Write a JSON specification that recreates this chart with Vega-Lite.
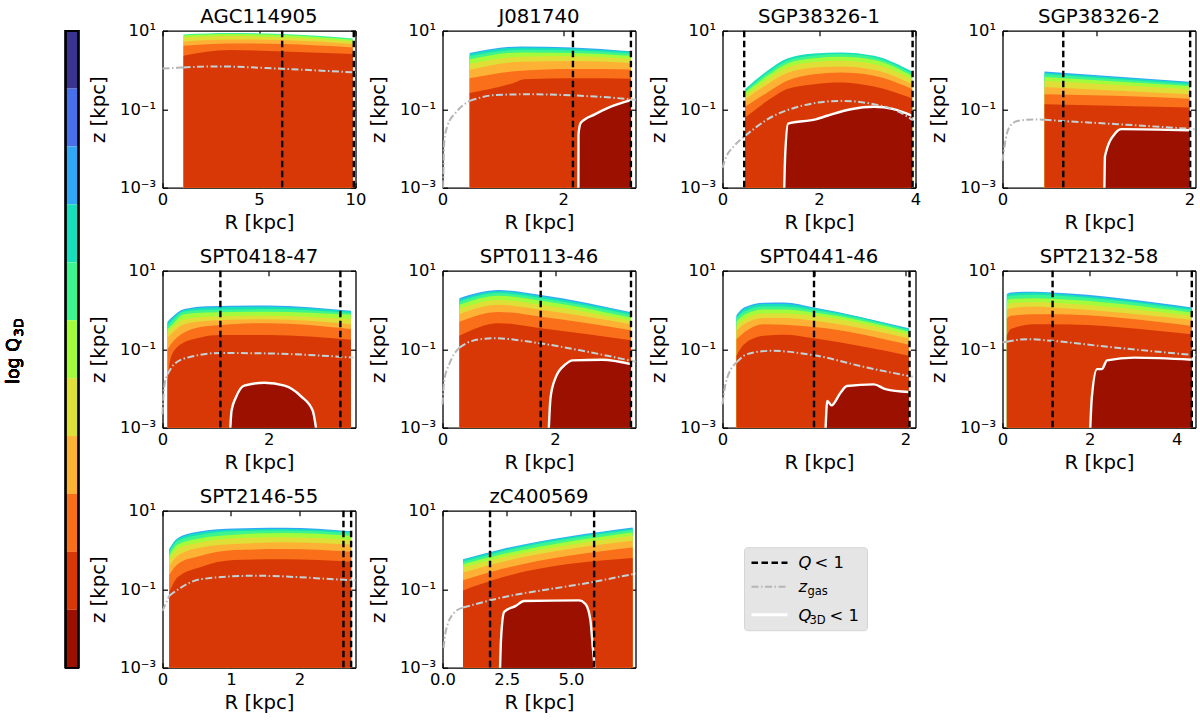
{"$schema":"https://vega.github.io/schema/vega-lite/v6.json","background":"white","padding":{"left":4.5,"top":6.7,"right":4,"bottom":4},
"config":{"view":{"stroke":null},"font":"DejaVu Sans","title":{"font":"DejaVu Sans","fontSize":19.7,"fontWeight":"normal","offset":-3.7},"axis":{"grid":false,"domainColor":"#000","domainWidth":1.3,"tickColor":"#000","tickWidth":1.2,"tickSize":-5,"labelColor":"#000","titleColor":"#000","labelFont":"DejaVu Sans","labelFontSize":16.4,"labelPadding":9,"titleFont":"DejaVu Sans","titleFontSize":19.7,"titleFontWeight":"normal","titlePadding":4,"zindex":1,"labelFlush":false,"labelOverlap":false},"axisY":{"titlePadding":11,"labelPadding":12}},
"datasets":{
"d1":[{"s":"b6","R":1.09,"z":8.06},{"s":"b6","R":3.5,"z":8.7},{"s":"b6","R":6.2,"z":8.2},{"s":"b6","R":9.86,"z":6.37},{"s":"b5","R":1.09,"z":7.6},{"s":"b5","R":3.5,"z":8.2},{"s":"b5","R":6.2,"z":7.74},{"s":"b5","R":9.86,"z":5.89},{"s":"b4","R":1.09,"z":6.76},{"s":"b4","R":3.5,"z":7.3},{"s":"b4","R":6.2,"z":6.76},{"s":"b4","R":9.86,"z":5.34},{"s":"b3","R":1.09,"z":5.34},{"s":"b3","R":3.5,"z":6},{"s":"b3","R":6.2,"z":5.78},{"s":"b3","R":9.86,"z":4.57},{"s":"b2","R":1.09,"z":4.14},{"s":"b2","R":3.5,"z":4.75},{"s":"b2","R":6.2,"z":4.57},{"s":"b2","R":9.86,"z":3.75},{"s":"b1","R":1.09,"z":2.3},{"s":"b1","R":3.5,"z":3.2},{"s":"b1","R":6.2,"z":2.96},{"s":"b1","R":9.86,"z":2.54},{"s":"g","R":0,"z":1.09},{"s":"g","R":1.09,"z":1.16},{"s":"h","R":1.09,"z":1.16},{"s":"h","R":2.85,"z":1.23},{"s":"h","R":6.2,"z":1.07},{"s":"h","R":10,"z":0.86},{"s":"Q","R":6.2},{"s":"Q","R":9.91}],
"d2":[{"s":"b8","R":0.45,"z":2.7},{"s":"b8","R":1.3,"z":3.98},{"s":"b8","R":2.15,"z":3.75},{"s":"b8","R":3.12,"z":3.0},{"s":"b7","R":0.45,"z":2.54},{"s":"b7","R":1.3,"z":3.75},{"s":"b7","R":2.15,"z":3.53},{"s":"b7","R":3.12,"z":2.92},{"s":"b6","R":0.45,"z":2.26},{"s":"b6","R":1.3,"z":3.27},{"s":"b6","R":2.15,"z":3.14},{"s":"b6","R":3.12,"z":2.64},{"s":"b5","R":0.45,"z":1.86},{"s":"b5","R":1.3,"z":2.8},{"s":"b5","R":2.15,"z":2.7},{"s":"b5","R":3.12,"z":2.3},{"s":"b4","R":0.45,"z":1.41},{"s":"b4","R":1.3,"z":2.18},{"s":"b4","R":2.15,"z":2.22},{"s":"b4","R":3.12,"z":1.9},{"s":"b3","R":0.45,"z":1.01},{"s":"b3","R":1.3,"z":1.62},{"s":"b3","R":2.15,"z":1.68},{"s":"b3","R":3.12,"z":1.5},{"s":"b2","R":0.45,"z":0.61},{"s":"b2","R":1.3,"z":0.95},{"s":"b2","R":2.15,"z":1.05},{"s":"b2","R":3.12,"z":1.03},{"s":"b1","R":0.45,"z":0.26},{"s":"b1","R":1.2,"z":0.48},{"s":"b1","R":1.35,"z":0.58},{"s":"b1","R":2.15,"z":0.61},{"s":"b1","R":3.12,"z":0.6},{"s":"b0","R":2.25,"z":0.001},{"s":"b0","R":2.252,"z":0.023},{"s":"b0","R":2.29,"z":0.045},{"s":"b0","R":2.53,"z":0.075},{"s":"b0","R":2.75,"z":0.11},{"s":"b0","R":3.12,"z":0.17},{"s":"g","R":0.01,"z":0.001},{"s":"g","R":0.03,"z":0.0155},{"s":"g","R":0.08,"z":0.037},{"s":"g","R":0.22,"z":0.082},{"s":"g","R":0.45,"z":0.163},{"s":"h","R":0.45,"z":0.163},{"s":"h","R":0.88,"z":0.23},{"s":"h","R":1.43,"z":0.24},{"s":"h","R":2.15,"z":0.225},{"s":"h","R":2.53,"z":0.21},{"s":"h","R":3.2,"z":0.175},{"s":"Q","R":2.16},{"s":"Q","R":3.12}],
"d3":[{"s":"b7","R":0.47,"z":0.325},{"s":"b7","R":0.93,"z":0.95},{"s":"b7","R":1.34,"z":1.95},{"s":"b7","R":1.9,"z":2.64},{"s":"b7","R":2.45,"z":2.8},{"s":"b7","R":3.14,"z":2.3},{"s":"b7","R":3.93,"z":0.91},{"s":"b6","R":0.47,"z":0.294},{"s":"b6","R":0.93,"z":0.83},{"s":"b6","R":1.34,"z":1.72},{"s":"b6","R":1.9,"z":2.35},{"s":"b6","R":2.45,"z":2.54},{"s":"b6","R":3.14,"z":2.09},{"s":"b6","R":3.93,"z":0.81},{"s":"b5","R":0.47,"z":0.267},{"s":"b5","R":0.93,"z":0.71},{"s":"b5","R":1.34,"z":1.47},{"s":"b5","R":1.9,"z":2.0},{"s":"b5","R":2.45,"z":2.18},{"s":"b5","R":3.14,"z":1.8},{"s":"b5","R":3.93,"z":0.71},{"s":"b4","R":0.47,"z":0.22},{"s":"b4","R":0.93,"z":0.58},{"s":"b4","R":1.34,"z":1.16},{"s":"b4","R":1.9,"z":1.6},{"s":"b4","R":2.45,"z":1.72},{"s":"b4","R":3.14,"z":1.41},{"s":"b4","R":3.93,"z":0.58},{"s":"b3","R":0.47,"z":0.18},{"s":"b3","R":0.93,"z":0.435},{"s":"b3","R":1.34,"z":0.83},{"s":"b3","R":1.9,"z":1.16},{"s":"b3","R":2.45,"z":1.23},{"s":"b3","R":3.14,"z":1.01},{"s":"b3","R":3.93,"z":0.435},{"s":"b2","R":0.47,"z":0.115},{"s":"b2","R":0.93,"z":0.267},{"s":"b2","R":1.34,"z":0.53},{"s":"b2","R":1.9,"z":0.78},{"s":"b2","R":2.45,"z":0.86},{"s":"b2","R":3.14,"z":0.71},{"s":"b2","R":3.93,"z":0.325},{"s":"b1","R":0.47,"z":0.061},{"s":"b1","R":0.93,"z":0.163},{"s":"b1","R":1.34,"z":0.325},{"s":"b1","R":1.9,"z":0.435},{"s":"b1","R":2.45,"z":0.48},{"s":"b1","R":3.14,"z":0.38},{"s":"b1","R":3.93,"z":0.19},{"s":"b0","R":1.28,"z":0.001},{"s":"b0","R":1.3,"z":0.0071},{"s":"b0","R":1.36,"z":0.043},{"s":"b0","R":1.93,"z":0.055},{"s":"b0","R":2.17,"z":0.068},{"s":"b0","R":2.66,"z":0.1},{"s":"b0","R":3.14,"z":0.115},{"s":"b0","R":3.55,"z":0.1},{"s":"b0","R":3.93,"z":0.068},{"s":"g","R":0,"z":0.0032},{"s":"g","R":0.07,"z":0.0058},{"s":"g","R":0.24,"z":0.0115},{"s":"g","R":0.47,"z":0.021},{"s":"h","R":0.47,"z":0.021},{"s":"h","R":0.93,"z":0.055},{"s":"h","R":1.62,"z":0.12},{"s":"h","R":2.45,"z":0.163},{"s":"h","R":3.14,"z":0.134},{"s":"h","R":3.69,"z":0.082},{"s":"h","R":3.97,"z":0.05},{"s":"Q","R":0.45},{"s":"Q","R":3.94}],
"d4":[{"s":"b8","R":0.45,"z":0.91},{"s":"b8","R":2.0,"z":0.5},{"s":"b7","R":0.45,"z":0.85},{"s":"b7","R":2.0,"z":0.48},{"s":"b6","R":0.45,"z":0.78},{"s":"b6","R":2.0,"z":0.435},{"s":"b5","R":0.45,"z":0.66},{"s":"b5","R":2.0,"z":0.39},{"s":"b4","R":0.45,"z":0.53},{"s":"b4","R":2.0,"z":0.32},{"s":"b3","R":0.45,"z":0.37},{"s":"b3","R":2.0,"z":0.242},{"s":"b2","R":0.45,"z":0.242},{"s":"b2","R":1.2,"z":0.22},{"s":"b2","R":2.0,"z":0.185},{"s":"b1","R":0.45,"z":0.134},{"s":"b1","R":2.0,"z":0.11},{"s":"b0","R":1.09,"z":0.001},{"s":"b0","R":1.096,"z":0.0063},{"s":"b0","R":1.21,"z":0.025},{"s":"b0","R":1.27,"z":0.031},{"s":"b0","R":2.0,"z":0.029},{"s":"g","R":0,"z":0.0048},{"s":"g","R":0.025,"z":0.0127},{"s":"g","R":0.07,"z":0.034},{"s":"g","R":0.16,"z":0.05},{"s":"g","R":0.34,"z":0.055},{"s":"g","R":0.45,"z":0.054},{"s":"h","R":0.45,"z":0.054},{"s":"h","R":0.65,"z":0.05},{"s":"h","R":1.23,"z":0.0415},{"s":"h","R":2.06,"z":0.031},{"s":"Q","R":0.65},{"s":"Q","R":2.007}],
"d5":[{"s":"b8","R":0.094,"z":0.5},{"s":"b8","R":0.157,"z":0.61},{"s":"b8","R":0.41,"z":1.05},{"s":"b8","R":0.85,"z":1.25},{"s":"b8","R":1.98,"z":1.3},{"s":"b8","R":3.55,"z":0.95},{"s":"b7","R":0.094,"z":0.47},{"s":"b7","R":0.157,"z":0.56},{"s":"b7","R":0.41,"z":1.0},{"s":"b7","R":0.85,"z":1.16},{"s":"b7","R":1.98,"z":1.2},{"s":"b7","R":3.55,"z":0.91},{"s":"b6","R":0.094,"z":0.39},{"s":"b6","R":0.157,"z":0.48},{"s":"b6","R":0.41,"z":0.91},{"s":"b6","R":0.85,"z":1.01},{"s":"b6","R":1.98,"z":1.05},{"s":"b6","R":3.55,"z":0.83},{"s":"b5","R":0.094,"z":0.325},{"s":"b5","R":0.157,"z":0.39},{"s":"b5","R":0.41,"z":0.78},{"s":"b5","R":0.85,"z":0.86},{"s":"b5","R":1.98,"z":0.9},{"s":"b5","R":3.55,"z":0.75},{"s":"b4","R":0.094,"z":0.267},{"s":"b4","R":0.157,"z":0.325},{"s":"b4","R":0.41,"z":0.58},{"s":"b4","R":0.85,"z":0.67},{"s":"b4","R":1.98,"z":0.71},{"s":"b4","R":3.55,"z":0.58},{"s":"b3","R":0.094,"z":0.2},{"s":"b3","R":0.157,"z":0.242},{"s":"b3","R":0.41,"z":0.435},{"s":"b3","R":0.85,"z":0.53},{"s":"b3","R":1.98,"z":0.58},{"s":"b3","R":3.55,"z":0.435},{"s":"b2","R":0.094,"z":0.1},{"s":"b2","R":0.157,"z":0.134},{"s":"b2","R":0.41,"z":0.267},{"s":"b2","R":0.85,"z":0.39},{"s":"b2","R":1.98,"z":0.46},{"s":"b2","R":3.55,"z":0.325},{"s":"b1","R":0.094,"z":0.0155},{"s":"b1","R":0.157,"z":0.061},{"s":"b1","R":0.346,"z":0.134},{"s":"b1","R":0.72,"z":0.2},{"s":"b1","R":1.09,"z":0.23},{"s":"b1","R":1.98,"z":0.23},{"s":"b1","R":3.55,"z":0.175},{"s":"b0","R":1.277,"z":0.001},{"s":"b0","R":1.3,"z":0.0027},{"s":"b0","R":1.38,"z":0.0058},{"s":"b0","R":1.54,"z":0.0118},{"s":"b0","R":1.92,"z":0.014},{"s":"b0","R":2.3,"z":0.0118},{"s":"b0","R":2.61,"z":0.0063},{"s":"b0","R":2.83,"z":0.0027},{"s":"b0","R":2.89,"z":0.001},{"s":"g","R":0,"z":0.0022},{"s":"g","R":0.03,"z":0.0105},{"s":"g","R":0.094,"z":0.023},{"s":"h","R":0.094,"z":0.023},{"s":"h","R":0.22,"z":0.0415},{"s":"h","R":0.47,"z":0.061},{"s":"h","R":1.09,"z":0.08},{"s":"h","R":1.98,"z":0.078},{"s":"h","R":3.6,"z":0.061},{"s":"Q","R":1.09},{"s":"Q","R":3.35}],
"d6":[{"s":"b8","R":0.3,"z":2.0},{"s":"b8","R":1.0,"z":3.2},{"s":"b8","R":1.75,"z":2.4},{"s":"b8","R":3.35,"z":0.87},{"s":"b7","R":0.3,"z":1.82},{"s":"b7","R":1.0,"z":3.0},{"s":"b7","R":1.75,"z":2.22},{"s":"b7","R":3.35,"z":0.83},{"s":"b6","R":0.3,"z":1.62},{"s":"b6","R":1.0,"z":2.7},{"s":"b6","R":1.75,"z":2.0},{"s":"b6","R":3.35,"z":0.75},{"s":"b5","R":0.3,"z":1.35},{"s":"b5","R":1.0,"z":2.3},{"s":"b5","R":1.75,"z":1.72},{"s":"b5","R":3.35,"z":0.64},{"s":"b4","R":0.3,"z":1.05},{"s":"b4","R":1.0,"z":1.78},{"s":"b4","R":1.75,"z":1.35},{"s":"b4","R":3.35,"z":0.53},{"s":"b3","R":0.3,"z":0.78},{"s":"b3","R":1.0,"z":1.35},{"s":"b3","R":1.75,"z":1.01},{"s":"b3","R":3.35,"z":0.435},{"s":"b2","R":0.3,"z":0.5},{"s":"b2","R":1.0,"z":0.89},{"s":"b2","R":1.75,"z":0.67},{"s":"b2","R":3.35,"z":0.305},{"s":"b1","R":0.3,"z":0.22},{"s":"b1","R":1.0,"z":0.46},{"s":"b1","R":1.75,"z":0.34},{"s":"b1","R":3.35,"z":0.17},{"s":"b0","R":1.89,"z":0.001},{"s":"b0","R":1.92,"z":0.0058},{"s":"b0","R":2.01,"z":0.0188},{"s":"b0","R":2.19,"z":0.0415},{"s":"b0","R":2.31,"z":0.052},{"s":"b0","R":2.84,"z":0.054},{"s":"b0","R":3.35,"z":0.0415},{"s":"g","R":0,"z":0.0039},{"s":"g","R":0.03,"z":0.0155},{"s":"g","R":0.12,"z":0.0415},{"s":"g","R":0.3,"z":0.11},{"s":"h","R":0.3,"z":0.11},{"s":"h","R":0.53,"z":0.163},{"s":"h","R":0.89,"z":0.19},{"s":"h","R":1.75,"z":0.14},{"s":"h","R":2.49,"z":0.091},{"s":"h","R":3.43,"z":0.048},{"s":"Q","R":1.745},{"s":"Q","R":3.35}],
"d7":[{"s":"b8","R":0.153,"z":0.74},{"s":"b8","R":0.236,"z":1.16},{"s":"b8","R":0.455,"z":1.53},{"s":"b8","R":0.673,"z":1.55},{"s":"b8","R":1.0,"z":1.16},{"s":"b8","R":2.036,"z":0.34},{"s":"b7","R":0.153,"z":0.68},{"s":"b7","R":0.236,"z":1.05},{"s":"b7","R":0.455,"z":1.41},{"s":"b7","R":0.673,"z":1.41},{"s":"b7","R":1.0,"z":1.1},{"s":"b7","R":2.036,"z":0.325},{"s":"b6","R":0.153,"z":0.61},{"s":"b6","R":0.236,"z":0.91},{"s":"b6","R":0.455,"z":1.23},{"s":"b6","R":0.673,"z":1.23},{"s":"b6","R":1.0,"z":0.99},{"s":"b6","R":2.036,"z":0.31},{"s":"b5","R":0.153,"z":0.5},{"s":"b5","R":0.236,"z":0.75},{"s":"b5","R":0.455,"z":1.03},{"s":"b5","R":0.673,"z":1.03},{"s":"b5","R":1.0,"z":0.86},{"s":"b5","R":2.036,"z":0.28},{"s":"b4","R":0.153,"z":0.39},{"s":"b4","R":0.236,"z":0.58},{"s":"b4","R":0.455,"z":0.81},{"s":"b4","R":0.673,"z":0.81},{"s":"b4","R":1.0,"z":0.71},{"s":"b4","R":2.036,"z":0.235},{"s":"b3","R":0.153,"z":0.294},{"s":"b3","R":0.236,"z":0.435},{"s":"b3","R":0.455,"z":0.62},{"s":"b3","R":0.673,"z":0.62},{"s":"b3","R":1.0,"z":0.53},{"s":"b3","R":2.036,"z":0.19},{"s":"b2","R":0.153,"z":0.18},{"s":"b2","R":0.236,"z":0.267},{"s":"b2","R":0.455,"z":0.435},{"s":"b2","R":0.673,"z":0.42},{"s":"b2","R":1.0,"z":0.37},{"s":"b2","R":2.036,"z":0.13},{"s":"b1","R":0.153,"z":0.068},{"s":"b1","R":0.236,"z":0.134},{"s":"b1","R":0.455,"z":0.22},{"s":"b1","R":0.673,"z":0.235},{"s":"b1","R":1.0,"z":0.19},{"s":"b1","R":2.036,"z":0.068},{"s":"b0","R":1.127,"z":0.001},{"s":"b0","R":1.145,"z":0.0048},{"s":"b0","R":1.19,"z":0.0037},{"s":"b0","R":1.29,"z":0.0078},{"s":"b0","R":1.36,"z":0.0115},{"s":"b0","R":1.655,"z":0.0127},{"s":"b0","R":1.78,"z":0.0096},{"s":"b0","R":2.036,"z":0.0081},{"s":"g","R":0,"z":0.0039},{"s":"g","R":0.036,"z":0.014},{"s":"g","R":0.153,"z":0.046},{"s":"h","R":0.153,"z":0.046},{"s":"h","R":0.27,"z":0.075},{"s":"h","R":0.527,"z":0.091},{"s":"h","R":1.0,"z":0.07},{"s":"h","R":1.58,"z":0.034},{"s":"h","R":2.09,"z":0.0197},{"s":"Q","R":1.0},{"s":"Q","R":2.044}],
"d8":[{"s":"b8","R":0.1,"z":2.54},{"s":"b8","R":0.19,"z":2.8},{"s":"b8","R":0.73,"z":2.92},{"s":"b8","R":1.15,"z":2.8},{"s":"b8","R":4.345,"z":1.16},{"s":"b7","R":0.1,"z":2.45},{"s":"b7","R":0.19,"z":2.64},{"s":"b7","R":0.73,"z":2.8},{"s":"b7","R":1.15,"z":2.64},{"s":"b7","R":4.345,"z":1.1},{"s":"b6","R":0.1,"z":2.09},{"s":"b6","R":0.19,"z":2.3},{"s":"b6","R":0.73,"z":2.45},{"s":"b6","R":1.15,"z":2.35},{"s":"b6","R":4.345,"z":1.0},{"s":"b5","R":0.1,"z":1.72},{"s":"b5","R":0.19,"z":1.9},{"s":"b5","R":0.73,"z":2.0},{"s":"b5","R":1.15,"z":1.93},{"s":"b5","R":4.345,"z":0.86},{"s":"b4","R":0.1,"z":1.3},{"s":"b4","R":0.19,"z":1.48},{"s":"b4","R":0.73,"z":1.6},{"s":"b4","R":1.15,"z":1.53},{"s":"b4","R":4.345,"z":0.71},{"s":"b3","R":0.1,"z":1.01},{"s":"b3","R":0.19,"z":1.11},{"s":"b3","R":0.73,"z":1.22},{"s":"b3","R":1.15,"z":1.16},{"s":"b3","R":4.345,"z":0.56},{"s":"b2","R":0.1,"z":0.61},{"s":"b2","R":0.19,"z":0.71},{"s":"b2","R":0.73,"z":0.78},{"s":"b2","R":1.15,"z":0.78},{"s":"b2","R":4.345,"z":0.39},{"s":"b1","R":0.1,"z":0.22},{"s":"b1","R":0.19,"z":0.325},{"s":"b1","R":0.73,"z":0.435},{"s":"b1","R":1.15,"z":0.435},{"s":"b1","R":4.345,"z":0.24},{"s":"b0","R":2.015,"z":0.001},{"s":"b0","R":2.05,"z":0.0058},{"s":"b0","R":2.17,"z":0.031},{"s":"b0","R":2.28,"z":0.031},{"s":"b0","R":2.4,"z":0.052},{"s":"b0","R":3.03,"z":0.061},{"s":"b0","R":4.345,"z":0.054},{"s":"g","R":0,"z":0.15},{"s":"g","R":0.1,"z":0.155},{"s":"h","R":0.1,"z":0.155},{"s":"h","R":0.57,"z":0.18},{"s":"h","R":1.15,"z":0.163},{"s":"h","R":2.26,"z":0.12},{"s":"h","R":4.43,"z":0.07},{"s":"Q","R":1.15},{"s":"Q","R":4.345}],
"d9":[{"s":"b8","R":0.098,"z":1.05},{"s":"b8","R":0.22,"z":2.0},{"s":"b8","R":0.56,"z":3.0},{"s":"b8","R":1.05,"z":3.53},{"s":"b8","R":1.78,"z":3.68},{"s":"b8","R":2.756,"z":3.0},{"s":"b7","R":0.098,"z":1.0},{"s":"b7","R":0.22,"z":1.9},{"s":"b7","R":0.56,"z":2.8},{"s":"b7","R":1.05,"z":3.27},{"s":"b7","R":1.78,"z":3.4},{"s":"b7","R":2.756,"z":2.92},{"s":"b6","R":0.098,"z":0.86},{"s":"b6","R":0.22,"z":1.68},{"s":"b6","R":0.56,"z":2.45},{"s":"b6","R":1.05,"z":3.0},{"s":"b6","R":1.78,"z":3.14},{"s":"b6","R":2.756,"z":2.7},{"s":"b5","R":0.098,"z":0.71},{"s":"b5","R":0.22,"z":1.37},{"s":"b5","R":0.56,"z":2.0},{"s":"b5","R":1.05,"z":2.45},{"s":"b5","R":1.78,"z":2.7},{"s":"b5","R":2.756,"z":2.3},{"s":"b4","R":0.098,"z":0.56},{"s":"b4","R":0.22,"z":1.05},{"s":"b4","R":0.56,"z":1.56},{"s":"b4","R":1.05,"z":2.0},{"s":"b4","R":1.78,"z":2.09},{"s":"b4","R":2.756,"z":1.78},{"s":"b3","R":0.098,"z":0.39},{"s":"b3","R":0.22,"z":0.71},{"s":"b3","R":0.56,"z":1.16},{"s":"b3","R":1.05,"z":1.41},{"s":"b3","R":1.78,"z":1.56},{"s":"b3","R":2.756,"z":1.37},{"s":"b2","R":0.098,"z":0.23},{"s":"b2","R":0.22,"z":0.435},{"s":"b2","R":0.56,"z":0.71},{"s":"b2","R":1.05,"z":0.99},{"s":"b2","R":1.78,"z":1.05},{"s":"b2","R":2.756,"z":0.9},{"s":"b1","R":0.098,"z":0.083},{"s":"b1","R":0.22,"z":0.2},{"s":"b1","R":0.56,"z":0.37},{"s":"b1","R":1.05,"z":0.555},{"s":"b1","R":1.78,"z":0.58},{"s":"b1","R":2.756,"z":0.5},{"s":"g","R":0,"z":0.028},{"s":"g","R":0.098,"z":0.068},{"s":"h","R":0.098,"z":0.068},{"s":"h","R":0.27,"z":0.11},{"s":"h","R":0.56,"z":0.18},{"s":"h","R":1.34,"z":0.22},{"s":"h","R":2.756,"z":0.17},{"s":"h","R":2.82,"z":0.168},{"s":"Q","R":2.644},{"s":"Q","R":2.756}],
"d10":[{"s":"b8","R":0.8,"z":0.58},{"s":"b8","R":2.33,"z":1.05},{"s":"b8","R":7.4,"z":3.75},{"s":"b7","R":0.8,"z":0.56},{"s":"b7","R":2.33,"z":1.0},{"s":"b7","R":7.4,"z":3.5},{"s":"b6","R":0.8,"z":0.5},{"s":"b6","R":2.33,"z":0.91},{"s":"b6","R":7.4,"z":3.2},{"s":"b5","R":0.8,"z":0.435},{"s":"b5","R":2.33,"z":0.78},{"s":"b5","R":7.4,"z":2.8},{"s":"b4","R":0.8,"z":0.36},{"s":"b4","R":2.33,"z":0.64},{"s":"b4","R":7.4,"z":2.3},{"s":"b3","R":0.8,"z":0.267},{"s":"b3","R":2.33,"z":0.5},{"s":"b3","R":7.4,"z":1.72},{"s":"b2","R":0.8,"z":0.17},{"s":"b2","R":2.33,"z":0.33},{"s":"b2","R":7.4,"z":1.16},{"s":"b1","R":0.8,"z":0.093},{"s":"b1","R":2.33,"z":0.2},{"s":"b1","R":7.4,"z":0.62},{"s":"b0","R":2.24,"z":0.001},{"s":"b0","R":2.28,"z":0.0058},{"s":"b0","R":2.4,"z":0.0265},{"s":"b0","R":2.85,"z":0.0375},{"s":"b0","R":3.17,"z":0.05},{"s":"b0","R":5.31,"z":0.052},{"s":"b0","R":5.57,"z":0.0415},{"s":"b0","R":5.76,"z":0.0155},{"s":"b0","R":5.85,"z":0.0032},{"s":"b0","R":5.92,"z":0.001},{"s":"g","R":0.04,"z":0.0032},{"s":"g","R":0.13,"z":0.0086},{"s":"g","R":0.45,"z":0.025},{"s":"g","R":0.8,"z":0.034},{"s":"h","R":0.8,"z":0.034},{"s":"h","R":1.85,"z":0.052},{"s":"h","R":5.9,"z":0.155},{"s":"h","R":7.51,"z":0.25},{"s":"Q","R":1.85},{"s":"Q","R":5.9}],
"bar":[{"s":"b10","lo":9,"hi":10},{"s":"b9","lo":8,"hi":9},{"s":"b8","lo":7,"hi":8},{"s":"b7","lo":6,"hi":7},{"s":"b6","lo":5,"hi":6},{"s":"b5","lo":4,"hi":5},{"s":"b4","lo":3,"hi":4},{"s":"b3","lo":2,"hi":3},{"s":"b2","lo":1,"hi":2},{"s":"b1","lo":0,"hi":1},{"s":"b0","lo":-1,"hi":0}]
},
"hconcat":[
{"width":13,"height":637,"data":{"name":"bar"},"layer":[
{"mark":{"type":"rect"},"encoding":{"x":{"datum":0,"type":"quantitative","scale":{"domain":[0,13],"nice":false,"zero":false},"axis":null},"x2":{"datum":13},"y":{"field":"lo","type":"quantitative","scale":{"domain":[-1,10],"nice":false,"zero":false},"axis":{"values":[0,2,4,6,8,10],"format":"d","title":null,"tickSize":5,"labelPadding":3}},"y2":{"field":"hi"},"color":{"field":"s","scale":{"domain":["b0","b1","b2","b3","b4","b5","b6","b7","b8","b9","b10"],"range":["#9c1000","#d83805","#f96f1a","#fdb236","#dfe037","#a2fc3c","#3df58f","#18dfbb","#30a8f5","#4870ea","#3a3390"]},"legend":null}}},
{"mark":{"type":"rect","fill":null,"stroke":"#000","strokeWidth":1.3},"encoding":{"x":{"datum":0,"type":"quantitative","axis":null},"x2":{"datum":13},"y":{"datum":-1,"type":"quantitative","axis":null},"y2":{"datum":10}}},
{"mark":{"type":"text","text":"log Q","angle":270,"align":"left","baseline":"alphabetic","fontSize":17.5,"font":"DejaVu Sans"},"encoding":{"x":{"datum":-47,"type":"quantitative","axis":null},"y":{"datum":3.9,"type":"quantitative","axis":null}}},
{"mark":{"type":"text","text":"3D","angle":270,"align":"left","baseline":"alphabetic","fontSize":13,"font":"DejaVu Sans"},"encoding":{"x":{"datum":-43,"type":"quantitative","axis":null},"y":{"datum":4.72,"type":"quantitative","axis":null}}}
]},
{"columns":4,"bounds":"flush","spacing":{"row":83,"column":87},"concat":[
{"title":"AGC114905","data":{"name":"d1"},"width":193,"height":157,"resolve":{"axis":{"x":"independent","y":"independent"}},"layer":[{"transform":[{"filter":"test(/^b/,datum.s)"}],"mark":{"type":"area","interpolate":"monotone"},"encoding":{"x":{"field":"R","type":"quantitative","scale":{"domain":[0,10],"nice":false,"zero":false},"axis":{"values":[0,5,10],"format":"d","title":"R [kpc]"}},"y":{"field":"z","type":"quantitative","stack":false,"scale":{"type":"log","domain":[0.001,10],"nice":false},"axis":{"values":[0.001,0.1,10],"labelExpr":"datum.value==10?'10¹':datum.value>0.05?'10⁻¹':'10⁻³'","title":"z [kpc]"}},"y2":{"datum":0.001},"color":{"field":"s","scale":{"domain":["b0","b1","b2","b3","b4","b5","b6","b7","b8"],"range":["#9c1000","#d83805","#f96f1a","#fdb236","#dfe037","#a2fc3c","#3df58f","#18dfbb","#30a8f5"]},"legend":null}}},{"transform":[{"filter":"datum.s=='g'"}],"mark":{"type":"line","color":"#b5b5b5","strokeWidth":2,"strokeDash":[7,2.5,1.5,2.5],"interpolate":"monotone"},"encoding":{"x":{"field":"R","type":"quantitative","axis":{"orient":"top","values":[0,5,10],"labels":false,"labelPadding":0,"title":null}},"y":{"field":"z","type":"quantitative","axis":{"orient":"right","values":[0.001,0.1,10],"labels":false,"labelPadding":0,"title":null}}}},{"transform":[{"filter":"datum.s=='h'"}],"mark":{"type":"line","color":"#c3d2d6","strokeWidth":2,"strokeDash":[7,2.5,1.5,2.5],"interpolate":"monotone"},"encoding":{"x":{"field":"R","type":"quantitative","axis":null},"y":{"field":"z","type":"quantitative","axis":null}}},{"transform":[{"filter":"datum.s=='Q'"}],"mark":{"type":"rule","color":"#000","strokeWidth":2.4,"strokeDash":[6.5,3.5]},"encoding":{"x":{"field":"R","type":"quantitative","axis":null}}}]},
{"title":"J081740","data":{"name":"d2"},"width":193,"height":157,"resolve":{"axis":{"x":"independent","y":"independent"}},"layer":[{"transform":[{"filter":"test(/^b/,datum.s)"}],"mark":{"type":"area","interpolate":"monotone"},"encoding":{"x":{"field":"R","type":"quantitative","scale":{"domain":[0,3.196],"nice":false,"zero":false},"axis":{"values":[0,2],"format":"d","title":"R [kpc]"}},"y":{"field":"z","type":"quantitative","stack":false,"scale":{"type":"log","domain":[0.001,10],"nice":false},"axis":{"values":[0.001,0.1,10],"labelExpr":"datum.value==10?'10¹':datum.value>0.05?'10⁻¹':'10⁻³'","title":"z [kpc]"}},"y2":{"datum":0.001},"color":{"field":"s","scale":{"domain":["b0","b1","b2","b3","b4","b5","b6","b7","b8"],"range":["#9c1000","#d83805","#f96f1a","#fdb236","#dfe037","#a2fc3c","#3df58f","#18dfbb","#30a8f5"]},"legend":null}}},{"transform":[{"filter":"datum.s=='b0'"}],"mark":{"type":"line","color":"#fff","strokeWidth":2.4,"interpolate":"monotone"},"encoding":{"x":{"field":"R","type":"quantitative","axis":null},"y":{"field":"z","type":"quantitative","axis":null}}},{"transform":[{"filter":"datum.s=='g'"}],"mark":{"type":"line","color":"#b5b5b5","strokeWidth":2,"strokeDash":[7,2.5,1.5,2.5],"interpolate":"monotone"},"encoding":{"x":{"field":"R","type":"quantitative","axis":{"orient":"top","values":[0,2],"labels":false,"labelPadding":0,"title":null}},"y":{"field":"z","type":"quantitative","axis":{"orient":"right","values":[0.001,0.1,10],"labels":false,"labelPadding":0,"title":null}}}},{"transform":[{"filter":"datum.s=='h'"}],"mark":{"type":"line","color":"#c3d2d6","strokeWidth":2,"strokeDash":[7,2.5,1.5,2.5],"interpolate":"monotone"},"encoding":{"x":{"field":"R","type":"quantitative","axis":null},"y":{"field":"z","type":"quantitative","axis":null}}},{"transform":[{"filter":"datum.s=='Q'"}],"mark":{"type":"rule","color":"#000","strokeWidth":2.4,"strokeDash":[6.5,3.5]},"encoding":{"x":{"field":"R","type":"quantitative","axis":null}}}]},
{"title":"SGP38326-1","data":{"name":"d3"},"width":193,"height":157,"resolve":{"axis":{"x":"independent","y":"independent"}},"layer":[{"transform":[{"filter":"test(/^b/,datum.s)"}],"mark":{"type":"area","interpolate":"monotone"},"encoding":{"x":{"field":"R","type":"quantitative","scale":{"domain":[0,4],"nice":false,"zero":false},"axis":{"values":[0,2,4],"format":"d","title":"R [kpc]"}},"y":{"field":"z","type":"quantitative","stack":false,"scale":{"type":"log","domain":[0.001,10],"nice":false},"axis":{"values":[0.001,0.1,10],"labelExpr":"datum.value==10?'10¹':datum.value>0.05?'10⁻¹':'10⁻³'","title":"z [kpc]"}},"y2":{"datum":0.001},"color":{"field":"s","scale":{"domain":["b0","b1","b2","b3","b4","b5","b6","b7","b8"],"range":["#9c1000","#d83805","#f96f1a","#fdb236","#dfe037","#a2fc3c","#3df58f","#18dfbb","#30a8f5"]},"legend":null}}},{"transform":[{"filter":"datum.s=='b0'"}],"mark":{"type":"line","color":"#fff","strokeWidth":2.4,"interpolate":"monotone"},"encoding":{"x":{"field":"R","type":"quantitative","axis":null},"y":{"field":"z","type":"quantitative","axis":null}}},{"transform":[{"filter":"datum.s=='g'"}],"mark":{"type":"line","color":"#b5b5b5","strokeWidth":2,"strokeDash":[7,2.5,1.5,2.5],"interpolate":"monotone"},"encoding":{"x":{"field":"R","type":"quantitative","axis":{"orient":"top","values":[0,2,4],"labels":false,"labelPadding":0,"title":null}},"y":{"field":"z","type":"quantitative","axis":{"orient":"right","values":[0.001,0.1,10],"labels":false,"labelPadding":0,"title":null}}}},{"transform":[{"filter":"datum.s=='h'"}],"mark":{"type":"line","color":"#c3d2d6","strokeWidth":2,"strokeDash":[7,2.5,1.5,2.5],"interpolate":"monotone"},"encoding":{"x":{"field":"R","type":"quantitative","axis":null},"y":{"field":"z","type":"quantitative","axis":null}}},{"transform":[{"filter":"datum.s=='Q'"}],"mark":{"type":"rule","color":"#000","strokeWidth":2.4,"strokeDash":[6.5,3.5]},"encoding":{"x":{"field":"R","type":"quantitative","axis":null}}}]},
{"title":"SGP38326-2","data":{"name":"d4"},"width":193,"height":157,"resolve":{"axis":{"x":"independent","y":"independent"}},"layer":[{"transform":[{"filter":"test(/^b/,datum.s)"}],"mark":{"type":"area","interpolate":"monotone"},"encoding":{"x":{"field":"R","type":"quantitative","scale":{"domain":[0,2.064],"nice":false,"zero":false},"axis":{"values":[0,1,2],"format":"d","title":"R [kpc]"}},"y":{"field":"z","type":"quantitative","stack":false,"scale":{"type":"log","domain":[0.001,10],"nice":false},"axis":{"values":[0.001,0.1,10],"labelExpr":"datum.value==10?'10¹':datum.value>0.05?'10⁻¹':'10⁻³'","title":"z [kpc]"}},"y2":{"datum":0.001},"color":{"field":"s","scale":{"domain":["b0","b1","b2","b3","b4","b5","b6","b7","b8"],"range":["#9c1000","#d83805","#f96f1a","#fdb236","#dfe037","#a2fc3c","#3df58f","#18dfbb","#30a8f5"]},"legend":null}}},{"transform":[{"filter":"datum.s=='b0'"}],"mark":{"type":"line","color":"#fff","strokeWidth":2.4,"interpolate":"monotone"},"encoding":{"x":{"field":"R","type":"quantitative","axis":null},"y":{"field":"z","type":"quantitative","axis":null}}},{"transform":[{"filter":"datum.s=='g'"}],"mark":{"type":"line","color":"#b5b5b5","strokeWidth":2,"strokeDash":[7,2.5,1.5,2.5],"interpolate":"monotone"},"encoding":{"x":{"field":"R","type":"quantitative","axis":{"orient":"top","values":[0,1,2],"labels":false,"labelPadding":0,"title":null}},"y":{"field":"z","type":"quantitative","axis":{"orient":"right","values":[0.001,0.1,10],"labels":false,"labelPadding":0,"title":null}}}},{"transform":[{"filter":"datum.s=='h'"}],"mark":{"type":"line","color":"#c3d2d6","strokeWidth":2,"strokeDash":[7,2.5,1.5,2.5],"interpolate":"monotone"},"encoding":{"x":{"field":"R","type":"quantitative","axis":null},"y":{"field":"z","type":"quantitative","axis":null}}},{"transform":[{"filter":"datum.s=='Q'"}],"mark":{"type":"rule","color":"#000","strokeWidth":2.4,"strokeDash":[6.5,3.5]},"encoding":{"x":{"field":"R","type":"quantitative","axis":null}}}]},
{"title":"SPT0418-47","data":{"name":"d5"},"width":193,"height":157,"resolve":{"axis":{"x":"independent","y":"independent"}},"layer":[{"transform":[{"filter":"test(/^b/,datum.s)"}],"mark":{"type":"area","interpolate":"monotone"},"encoding":{"x":{"field":"R","type":"quantitative","scale":{"domain":[0,3.635],"nice":false,"zero":false},"axis":{"values":[0,2],"format":"d","title":"R [kpc]"}},"y":{"field":"z","type":"quantitative","stack":false,"scale":{"type":"log","domain":[0.001,10],"nice":false},"axis":{"values":[0.001,0.1,10],"labelExpr":"datum.value==10?'10¹':datum.value>0.05?'10⁻¹':'10⁻³'","title":"z [kpc]"}},"y2":{"datum":0.001},"color":{"field":"s","scale":{"domain":["b0","b1","b2","b3","b4","b5","b6","b7","b8"],"range":["#9c1000","#d83805","#f96f1a","#fdb236","#dfe037","#a2fc3c","#3df58f","#18dfbb","#30a8f5"]},"legend":null}}},{"transform":[{"filter":"datum.s=='b0'"}],"mark":{"type":"line","color":"#fff","strokeWidth":2.4,"interpolate":"monotone"},"encoding":{"x":{"field":"R","type":"quantitative","axis":null},"y":{"field":"z","type":"quantitative","axis":null}}},{"transform":[{"filter":"datum.s=='g'"}],"mark":{"type":"line","color":"#b5b5b5","strokeWidth":2,"strokeDash":[7,2.5,1.5,2.5],"interpolate":"monotone"},"encoding":{"x":{"field":"R","type":"quantitative","axis":{"orient":"top","values":[0,2],"labels":false,"labelPadding":0,"title":null}},"y":{"field":"z","type":"quantitative","axis":{"orient":"right","values":[0.001,0.1,10],"labels":false,"labelPadding":0,"title":null}}}},{"transform":[{"filter":"datum.s=='h'"}],"mark":{"type":"line","color":"#c3d2d6","strokeWidth":2,"strokeDash":[7,2.5,1.5,2.5],"interpolate":"monotone"},"encoding":{"x":{"field":"R","type":"quantitative","axis":null},"y":{"field":"z","type":"quantitative","axis":null}}},{"transform":[{"filter":"datum.s=='Q'"}],"mark":{"type":"rule","color":"#000","strokeWidth":2.4,"strokeDash":[6.5,3.5]},"encoding":{"x":{"field":"R","type":"quantitative","axis":null}}}]},
{"title":"SPT0113-46","data":{"name":"d6"},"width":193,"height":157,"resolve":{"axis":{"x":"independent","y":"independent"}},"layer":[{"transform":[{"filter":"test(/^b/,datum.s)"}],"mark":{"type":"area","interpolate":"monotone"},"encoding":{"x":{"field":"R","type":"quantitative","scale":{"domain":[0,3.43],"nice":false,"zero":false},"axis":{"values":[0,2],"format":"d","title":"R [kpc]"}},"y":{"field":"z","type":"quantitative","stack":false,"scale":{"type":"log","domain":[0.001,10],"nice":false},"axis":{"values":[0.001,0.1,10],"labelExpr":"datum.value==10?'10¹':datum.value>0.05?'10⁻¹':'10⁻³'","title":"z [kpc]"}},"y2":{"datum":0.001},"color":{"field":"s","scale":{"domain":["b0","b1","b2","b3","b4","b5","b6","b7","b8"],"range":["#9c1000","#d83805","#f96f1a","#fdb236","#dfe037","#a2fc3c","#3df58f","#18dfbb","#30a8f5"]},"legend":null}}},{"transform":[{"filter":"datum.s=='b0'"}],"mark":{"type":"line","color":"#fff","strokeWidth":2.4,"interpolate":"monotone"},"encoding":{"x":{"field":"R","type":"quantitative","axis":null},"y":{"field":"z","type":"quantitative","axis":null}}},{"transform":[{"filter":"datum.s=='g'"}],"mark":{"type":"line","color":"#b5b5b5","strokeWidth":2,"strokeDash":[7,2.5,1.5,2.5],"interpolate":"monotone"},"encoding":{"x":{"field":"R","type":"quantitative","axis":{"orient":"top","values":[0,2],"labels":false,"labelPadding":0,"title":null}},"y":{"field":"z","type":"quantitative","axis":{"orient":"right","values":[0.001,0.1,10],"labels":false,"labelPadding":0,"title":null}}}},{"transform":[{"filter":"datum.s=='h'"}],"mark":{"type":"line","color":"#c3d2d6","strokeWidth":2,"strokeDash":[7,2.5,1.5,2.5],"interpolate":"monotone"},"encoding":{"x":{"field":"R","type":"quantitative","axis":null},"y":{"field":"z","type":"quantitative","axis":null}}},{"transform":[{"filter":"datum.s=='Q'"}],"mark":{"type":"rule","color":"#000","strokeWidth":2.4,"strokeDash":[6.5,3.5]},"encoding":{"x":{"field":"R","type":"quantitative","axis":null}}}]},
{"title":"SPT0441-46","data":{"name":"d7"},"width":193,"height":157,"resolve":{"axis":{"x":"independent","y":"independent"}},"layer":[{"transform":[{"filter":"test(/^b/,datum.s)"}],"mark":{"type":"area","interpolate":"monotone"},"encoding":{"x":{"field":"R","type":"quantitative","scale":{"domain":[0,2.109],"nice":false,"zero":false},"axis":{"values":[0,1,2],"format":"d","title":"R [kpc]"}},"y":{"field":"z","type":"quantitative","stack":false,"scale":{"type":"log","domain":[0.001,10],"nice":false},"axis":{"values":[0.001,0.1,10],"labelExpr":"datum.value==10?'10¹':datum.value>0.05?'10⁻¹':'10⁻³'","title":"z [kpc]"}},"y2":{"datum":0.001},"color":{"field":"s","scale":{"domain":["b0","b1","b2","b3","b4","b5","b6","b7","b8"],"range":["#9c1000","#d83805","#f96f1a","#fdb236","#dfe037","#a2fc3c","#3df58f","#18dfbb","#30a8f5"]},"legend":null}}},{"transform":[{"filter":"datum.s=='b0'"}],"mark":{"type":"line","color":"#fff","strokeWidth":2.4,"interpolate":"monotone"},"encoding":{"x":{"field":"R","type":"quantitative","axis":null},"y":{"field":"z","type":"quantitative","axis":null}}},{"transform":[{"filter":"datum.s=='g'"}],"mark":{"type":"line","color":"#b5b5b5","strokeWidth":2,"strokeDash":[7,2.5,1.5,2.5],"interpolate":"monotone"},"encoding":{"x":{"field":"R","type":"quantitative","axis":{"orient":"top","values":[0,1,2],"labels":false,"labelPadding":0,"title":null}},"y":{"field":"z","type":"quantitative","axis":{"orient":"right","values":[0.001,0.1,10],"labels":false,"labelPadding":0,"title":null}}}},{"transform":[{"filter":"datum.s=='h'"}],"mark":{"type":"line","color":"#c3d2d6","strokeWidth":2,"strokeDash":[7,2.5,1.5,2.5],"interpolate":"monotone"},"encoding":{"x":{"field":"R","type":"quantitative","axis":null},"y":{"field":"z","type":"quantitative","axis":null}}},{"transform":[{"filter":"datum.s=='Q'"}],"mark":{"type":"rule","color":"#000","strokeWidth":2.4,"strokeDash":[6.5,3.5]},"encoding":{"x":{"field":"R","type":"quantitative","axis":null}}}]},
{"title":"SPT2132-58","data":{"name":"d8"},"width":193,"height":157,"resolve":{"axis":{"x":"independent","y":"independent"}},"layer":[{"transform":[{"filter":"test(/^b/,datum.s)"}],"mark":{"type":"area","interpolate":"monotone"},"encoding":{"x":{"field":"R","type":"quantitative","scale":{"domain":[0,4.43],"nice":false,"zero":false},"axis":{"values":[0,2,4],"format":"d","title":"R [kpc]"}},"y":{"field":"z","type":"quantitative","stack":false,"scale":{"type":"log","domain":[0.001,10],"nice":false},"axis":{"values":[0.001,0.1,10],"labelExpr":"datum.value==10?'10¹':datum.value>0.05?'10⁻¹':'10⁻³'","title":"z [kpc]"}},"y2":{"datum":0.001},"color":{"field":"s","scale":{"domain":["b0","b1","b2","b3","b4","b5","b6","b7","b8"],"range":["#9c1000","#d83805","#f96f1a","#fdb236","#dfe037","#a2fc3c","#3df58f","#18dfbb","#30a8f5"]},"legend":null}}},{"transform":[{"filter":"datum.s=='b0'"}],"mark":{"type":"line","color":"#fff","strokeWidth":2.4,"interpolate":"monotone"},"encoding":{"x":{"field":"R","type":"quantitative","axis":null},"y":{"field":"z","type":"quantitative","axis":null}}},{"transform":[{"filter":"datum.s=='g'"}],"mark":{"type":"line","color":"#b5b5b5","strokeWidth":2,"strokeDash":[7,2.5,1.5,2.5],"interpolate":"monotone"},"encoding":{"x":{"field":"R","type":"quantitative","axis":{"orient":"top","values":[0,2,4],"labels":false,"labelPadding":0,"title":null}},"y":{"field":"z","type":"quantitative","axis":{"orient":"right","values":[0.001,0.1,10],"labels":false,"labelPadding":0,"title":null}}}},{"transform":[{"filter":"datum.s=='h'"}],"mark":{"type":"line","color":"#c3d2d6","strokeWidth":2,"strokeDash":[7,2.5,1.5,2.5],"interpolate":"monotone"},"encoding":{"x":{"field":"R","type":"quantitative","axis":null},"y":{"field":"z","type":"quantitative","axis":null}}},{"transform":[{"filter":"datum.s=='Q'"}],"mark":{"type":"rule","color":"#000","strokeWidth":2.4,"strokeDash":[6.5,3.5]},"encoding":{"x":{"field":"R","type":"quantitative","axis":null}}}]},
{"title":"SPT2146-55","data":{"name":"d9"},"width":193,"height":157,"resolve":{"axis":{"x":"independent","y":"independent"}},"layer":[{"transform":[{"filter":"test(/^b/,datum.s)"}],"mark":{"type":"area","interpolate":"monotone"},"encoding":{"x":{"field":"R","type":"quantitative","scale":{"domain":[0,2.82],"nice":false,"zero":false},"axis":{"values":[0,1,2],"format":"d","title":"R [kpc]"}},"y":{"field":"z","type":"quantitative","stack":false,"scale":{"type":"log","domain":[0.001,10],"nice":false},"axis":{"values":[0.001,0.1,10],"labelExpr":"datum.value==10?'10¹':datum.value>0.05?'10⁻¹':'10⁻³'","title":"z [kpc]"}},"y2":{"datum":0.001},"color":{"field":"s","scale":{"domain":["b0","b1","b2","b3","b4","b5","b6","b7","b8"],"range":["#9c1000","#d83805","#f96f1a","#fdb236","#dfe037","#a2fc3c","#3df58f","#18dfbb","#30a8f5"]},"legend":null}}},{"transform":[{"filter":"datum.s=='g'"}],"mark":{"type":"line","color":"#b5b5b5","strokeWidth":2,"strokeDash":[7,2.5,1.5,2.5],"interpolate":"monotone"},"encoding":{"x":{"field":"R","type":"quantitative","axis":{"orient":"top","values":[0,1,2],"labels":false,"labelPadding":0,"title":null}},"y":{"field":"z","type":"quantitative","axis":{"orient":"right","values":[0.001,0.1,10],"labels":false,"labelPadding":0,"title":null}}}},{"transform":[{"filter":"datum.s=='h'"}],"mark":{"type":"line","color":"#c3d2d6","strokeWidth":2,"strokeDash":[7,2.5,1.5,2.5],"interpolate":"monotone"},"encoding":{"x":{"field":"R","type":"quantitative","axis":null},"y":{"field":"z","type":"quantitative","axis":null}}},{"transform":[{"filter":"datum.s=='Q'"}],"mark":{"type":"rule","color":"#000","strokeWidth":2.4,"strokeDash":[6.5,3.5]},"encoding":{"x":{"field":"R","type":"quantitative","axis":null}}}]},
{"title":"zC400569","data":{"name":"d10"},"width":193,"height":157,"resolve":{"axis":{"x":"independent","y":"independent"}},"layer":[{"transform":[{"filter":"test(/^b/,datum.s)"}],"mark":{"type":"area","interpolate":"monotone"},"encoding":{"x":{"field":"R","type":"quantitative","scale":{"domain":[0,7.51],"nice":false,"zero":false},"axis":{"values":[0,2.5,5],"format":".1f","title":"R [kpc]"}},"y":{"field":"z","type":"quantitative","stack":false,"scale":{"type":"log","domain":[0.001,10],"nice":false},"axis":{"values":[0.001,0.1,10],"labelExpr":"datum.value==10?'10¹':datum.value>0.05?'10⁻¹':'10⁻³'","title":"z [kpc]"}},"y2":{"datum":0.001},"color":{"field":"s","scale":{"domain":["b0","b1","b2","b3","b4","b5","b6","b7","b8"],"range":["#9c1000","#d83805","#f96f1a","#fdb236","#dfe037","#a2fc3c","#3df58f","#18dfbb","#30a8f5"]},"legend":null}}},{"transform":[{"filter":"datum.s=='b0'"}],"mark":{"type":"line","color":"#fff","strokeWidth":2.4,"interpolate":"monotone"},"encoding":{"x":{"field":"R","type":"quantitative","axis":null},"y":{"field":"z","type":"quantitative","axis":null}}},{"transform":[{"filter":"datum.s=='g'"}],"mark":{"type":"line","color":"#b5b5b5","strokeWidth":2,"strokeDash":[7,2.5,1.5,2.5],"interpolate":"monotone"},"encoding":{"x":{"field":"R","type":"quantitative","axis":{"orient":"top","values":[0,2.5,5],"labels":false,"labelPadding":0,"title":null}},"y":{"field":"z","type":"quantitative","axis":{"orient":"right","values":[0.001,0.1,10],"labels":false,"labelPadding":0,"title":null}}}},{"transform":[{"filter":"datum.s=='h'"}],"mark":{"type":"line","color":"#c3d2d6","strokeWidth":2,"strokeDash":[7,2.5,1.5,2.5],"interpolate":"monotone"},"encoding":{"x":{"field":"R","type":"quantitative","axis":null},"y":{"field":"z","type":"quantitative","axis":null}}},{"transform":[{"filter":"datum.s=='Q'"}],"mark":{"type":"rule","color":"#000","strokeWidth":2.4,"strokeDash":[6.5,3.5]},"encoding":{"x":{"field":"R","type":"quantitative","axis":null}}}]},
{"width":193,"height":157,"data":{"values":[{"entry":"legend"}]},"encoding":{"x":{"datum":0,"type":"quantitative","scale":{"domain":[0,193],"nice":false,"zero":false},"axis":null},"y":{"datum":0,"type":"quantitative","scale":{"domain":[157,0],"nice":false,"zero":false},"axis":null}},"layer":[
{"mark":{"type":"rect","fill":"#e5e5e5","stroke":"#d5d5d5","cornerRadius":3},"encoding":{"x":{"datum":22,"type":"quantitative"},"x2":{"datum":145},"y":{"datum":37,"type":"quantitative"},"y2":{"datum":120}}},
{"mark":{"type":"rule","color":"#000","strokeWidth":2.4,"strokeDash":[6.5,3.5]},"encoding":{"x":{"datum":29,"type":"quantitative"},"x2":{"datum":65},"y":{"datum":52,"type":"quantitative"}}},
{"mark":{"type":"rule","color":"#b5b5b5","strokeWidth":2,"strokeDash":[7,2.5,1.5,2.5]},"encoding":{"x":{"datum":29,"type":"quantitative"},"x2":{"datum":65},"y":{"datum":76,"type":"quantitative"}}},
{"mark":{"type":"rule","color":"#fff","strokeWidth":3},"encoding":{"x":{"datum":29,"type":"quantitative"},"x2":{"datum":65},"y":{"datum":104,"type":"quantitative"}}},
{"mark":{"type":"text","text":"Q","fontStyle":"italic","fontSize":16.4,"align":"left","baseline":"alphabetic"},"encoding":{"x":{"datum":76,"type":"quantitative"},"y":{"datum":57,"type":"quantitative"}}},
{"mark":{"type":"text","text":"< 1","fontSize":16.4,"align":"left","baseline":"alphabetic"},"encoding":{"x":{"datum":92,"type":"quantitative"},"y":{"datum":57,"type":"quantitative"}}},
{"mark":{"type":"text","text":"z","fontStyle":"italic","fontSize":16.4,"align":"left","baseline":"alphabetic"},"encoding":{"x":{"datum":76,"type":"quantitative"},"y":{"datum":81,"type":"quantitative"}}},
{"mark":{"type":"text","text":"gas","fontSize":11.5,"align":"left","baseline":"alphabetic"},"encoding":{"x":{"datum":85,"type":"quantitative"},"y":{"datum":84,"type":"quantitative"}}},
{"mark":{"type":"text","text":"Q","fontStyle":"italic","fontSize":16.4,"align":"left","baseline":"alphabetic"},"encoding":{"x":{"datum":76,"type":"quantitative"},"y":{"datum":110,"type":"quantitative"}}},
{"mark":{"type":"text","text":"3D","fontSize":11.5,"align":"left","baseline":"alphabetic"},"encoding":{"x":{"datum":87,"type":"quantitative"},"y":{"datum":113,"type":"quantitative"}}},
{"mark":{"type":"text","text":"< 1","fontSize":16.4,"align":"left","baseline":"alphabetic"},"encoding":{"x":{"datum":107,"type":"quantitative"},"y":{"datum":110,"type":"quantitative"}}}
]}
]}
],"spacing":84,"bounds":"flush"}
